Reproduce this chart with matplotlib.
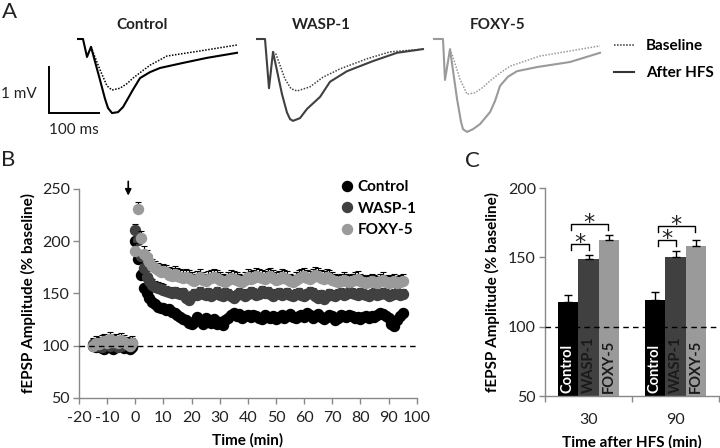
import numpy as np
import matplotlib
matplotlib.use("Agg")
import matplotlib.pyplot as plt
from matplotlib.lines import Line2D

plt.rcParams['font.family'] = ['Lato', 'DejaVu Sans']
plt.rcParams['axes.unicode_minus'] = False

GROUPS = ["Control", "WASP-1", "FOXY-5"]
COLORS = ["#000000", "#404040", "#9a9a9a"]

# ---- A: example traces (time in ms, amplitude in mV) ----
CTRL_HFS_T = [0, 12, 20, 28, 46, 56, 62, 70, 82, 92, 100, 112, 126, 146, 166, 212, 260, 320]
CTRL_HFS_V = [0, 0, -0.39, -0.17, -0.89, -1.30, -1.50, -1.61, -1.59, -1.48, -1.33, -1.10, -0.85, -0.72,
              -0.63, -0.52, -0.41, -0.30]
CTRL_BASE_T = [28, 46, 60, 70, 86, 100, 112, 130, 146, 180, 246, 320]
CTRL_BASE_V = [-0.17, -0.67, -1.02, -1.11, -1.07, -0.97, -0.85, -0.70, -0.57, -0.37, -0.26, -0.13]

WASP_HFS_T = [0, 18, 26, 34, 52, 62, 68, 74, 88, 102, 128, 148, 182, 234, 282, 334]
WASP_HFS_V = [0, 0, -1.07, -0.28, -1.20, -1.60, -1.74, -1.78, -1.72, -1.52, -1.26, -0.93, -0.70, -0.48,
              -0.30, -0.22]
WASP_BASE_T = [34, 40, 58, 70, 82, 108, 134, 168, 222, 268, 334]
WASP_BASE_V = [-0.28, -0.33, -0.87, -1.08, -1.13, -1.04, -0.83, -0.65, -0.43, -0.28, -0.22]

FOXY_HFS_T = [0, 20, 24, 34, 48, 56, 60, 68, 80, 94, 114, 124, 134, 150, 168, 208, 274, 334]
FOXY_HFS_V = [0, 0, -0.89, -0.22, -1.30, -1.80, -1.96, -2.02, -1.96, -1.85, -1.59, -1.35, -1.02, -0.82,
              -0.70, -0.61, -0.50, -0.30]
FOXY_BASE_T = [34, 38, 54, 68, 84, 100, 114, 134, 154, 214, 334]
FOXY_BASE_V = [-0.22, -0.33, -0.87, -1.20, -1.17, -1.05, -0.91, -0.74, -0.59, -0.37, -0.15]

# ---- B: time course (% baseline) ----
BASE_T = list(range(-15, 0))
POST_T = list(range(0, 96))
CTRL_BASE = [100, 99, 101, 98, 97, 100, 99, 97, 99, 101, 100, 98, 99, 97, 99]
WASP_BASE = [101, 100, 102, 99, 101, 103, 100, 102, 101, 99, 100, 102, 101, 100, 102]
FOXY_BASE = [100, 102, 101, 103, 104, 102, 106, 103, 104, 102, 105, 103, 101, 100, 102]
CTRL_POST = [200, 183, 168, 155, 150, 146, 142, 140, 137, 136, 136, 134, 135, 132, 131, 129, 127, 125, 124, 122,
             121, 123, 127, 124, 121, 126, 124, 122, 125, 121, 123, 120, 124, 126, 129, 131, 128, 130, 126, 128,
             129, 127, 129, 128, 126, 125, 129, 127, 126, 128, 125, 127, 129, 126, 128, 130, 127, 126, 128, 129,
             127, 131, 129, 126, 128, 130, 127, 125, 127, 129, 128, 124, 126, 129, 128, 127, 129, 128, 126, 127,
             125, 127, 128, 126, 128, 127, 129, 131, 130, 128, 126, 121, 119, 124, 128, 131]
WASP_POST = [211, 201, 186, 174, 166, 162, 158, 156, 155, 154, 153, 152, 151, 150, 151, 150, 149, 150, 146, 144,
             147, 149, 148, 151, 149, 148, 150, 147, 149, 151, 148, 147, 150, 149, 147, 146, 148, 150, 149, 147,
             149, 151, 150, 148, 149, 152, 150, 151, 149, 147, 149, 150, 148, 149, 150, 148, 147, 149, 150, 148,
             147, 149, 151, 150, 147, 146, 148, 145, 147, 149, 148, 147, 149, 150, 148, 149, 151, 150, 149, 148,
             150, 149, 148, 147, 149, 150, 148, 149, 150, 149, 147, 148, 149, 150, 148, 149]
FOXY_POST = [191, 231, 203, 188, 185, 180, 176, 174, 172, 170, 171, 170, 168, 167, 169, 167, 166, 165, 166, 165,
             163, 162, 164, 166, 163, 162, 164, 165, 166, 165, 163, 162, 161, 163, 165, 164, 163, 162, 161, 163,
             166, 164, 165, 167, 166, 165, 164, 166, 167, 165, 163, 164, 166, 165, 164, 162, 161, 163, 165, 166,
             167, 165, 164, 166, 168, 167, 165, 164, 166, 165, 163, 162, 161, 162, 163, 162, 161, 162, 163, 164,
             162, 161, 160, 161, 162, 161, 160, 162, 163, 161, 160, 161, 162, 160, 161, 162]
SEM_B = [4, 5.5, 7]

# ---- C: bar summary ----
TIMES_C = ["30", "90"]
BAR_MEAN = [[117.5, 119.5], [148.5, 150.0], [162.5, 158.0]]
BAR_SEM = [[5.0, 5.5], [3.0, 4.5], [3.5, 4.5]]
SIG_PAIRS = [(0, 1), (0, 2)]

fig = plt.figure(figsize=(7.2, 4.48), dpi=100)
W, H = 720.0, 448.0
def box(l, t, r, b):
    return [l / W, 1 - b / H, (r - l) / W, (b - t) / H]

# ---------------- A ----------------
traces = [(CTRL_HFS_T, CTRL_HFS_V, CTRL_BASE_T, CTRL_BASE_V),
          (WASP_HFS_T, WASP_HFS_V, WASP_BASE_T, WASP_BASE_V),
          (FOXY_HFS_T, FOXY_HFS_V, FOXY_BASE_T, FOXY_BASE_V)]
lefts = [77, 256, 433]
axA = []
for name, col, left, (ht, hv, bt, bv) in zip(GROUPS, COLORS, lefts, traces):
    ax = fig.add_axes(box(left, 20.6, left + 170, 140.2))
    ax.plot(bt, bv, color=col, lw=1.1, ls=(0, (1, 1)))
    ax.plot(ht, hv, color=col, lw=1.5)
    ax.set_xlim(0, 340); ax.set_ylim(-2.2, 0.4)
    ax.text(130, 0.30, name, ha="center", va="center", fontweight="bold", fontsize=11, color="#222222")
    ax.axis("off")
    axA.append(ax)

# scale bar
a0 = axA[0]
a0.plot([-56, -56, 44], [-0.61, -1.61, -1.61], color="black", lw=1.4, clip_on=False, solid_joinstyle="miter")
a0.text(-80, -1.20, "1 mV", ha="right", va="center", fontsize=11, color="#222222")
a0.text(-6, -1.98, "100 ms", ha="center", va="center", fontsize=11, color="#222222")

hdl = [Line2D([], [], color="#333333", lw=1.1, ls=(0, (1, 1))),
       Line2D([], [], color="#333333", lw=1.5)]
fig.legend(hdl, ["Baseline", "After HFS"], loc="upper left", bbox_to_anchor=(614 / W, 1 - 39 / H),
           frameon=False, prop={"weight": "bold", "size": 11}, handlelength=1.3,
           handletextpad=0.8, labelspacing=0.85, borderpad=0, borderaxespad=0)

# ---------------- B ----------------
axB = fig.add_axes(box(79, 189, 416.7, 397.7))
all_t = BASE_T + POST_T
series = [(CTRL_BASE, CTRL_POST), (WASP_BASE, WASP_POST), (FOXY_BASE, FOXY_POST)]
handles = []
for i, (name, col, (b, p), sem) in enumerate(zip(GROUPS, COLORS, series, SEM_B)):
    y = np.array(b + p, dtype=float)
    axB.errorbar(all_t, y, yerr=[np.zeros_like(y), np.full_like(y, sem)], fmt="none",
                 ecolor="black", elinewidth=0.8, capsize=2, capthick=0.8, zorder=1.9 + i)
    ln, = axB.plot(all_t, y, "o", ms=7.2, color=col, mec=col, zorder=2 + i, label=name)
    handles.append(ln)
axB.axhline(100, color="black", lw=1, ls=(0, (4, 3)), zorder=6)
axB.annotate("", xy=(-2.5, 241), xytext=(-2.5, 260),
             arrowprops=dict(arrowstyle="-|>", color="black", lw=1.2, mutation_scale=9),
             annotation_clip=False)
axB.set_xlim(-20, 100); axB.set_ylim(50, 250)
axB.set_xticks(range(-20, 101, 10)); axB.set_yticks(range(50, 251, 50))
axB.set_xlabel("Time (min)", fontweight="bold", fontsize=11, labelpad=6)
axB.set_ylabel("fEPSP Amplitude (% baseline)", fontweight="bold", fontsize=11, labelpad=4)
axB.legend(handles=handles, loc="upper left", bbox_to_anchor=(342.5 / W, 1 - 180 / H),
           bbox_transform=fig.transFigure, frameon=False, prop={"weight": "bold", "size": 11},
           handlelength=0.6, handletextpad=0.4, labelspacing=0.5, borderpad=0, borderaxespad=0)

# ---------------- C ----------------
axC = fig.add_axes(box(545, 188, 719, 396))
x = np.arange(len(TIMES_C))
w = 0.236
for i, (name, col) in enumerate(zip(GROUPS, COLORS)):
    xs = x + (i - 1) * w
    axC.bar(xs, BAR_MEAN[i], width=w, color=col, zorder=2)
    axC.errorbar(xs, BAR_MEAN[i], yerr=[np.zeros(len(x)), BAR_SEM[i]], fmt="none", ecolor="black",
                 elinewidth=1, capsize=3, capthick=1, zorder=3)
    tcol = "white" if i == 0 else "#1a1a1a"
    for xx in xs:
        axC.text(xx, 52, name, rotation=90, ha="center", va="bottom", color=tcol,
                 fontweight="bold", fontsize=10.5, zorder=4)
axC.axhline(100, color="black", lw=1, ls=(0, (4, 3)), zorder=5)

for j in range(len(TIMES_C)):
    tops = [BAR_MEAN[i][j] + BAR_SEM[i][j] for i in range(3)]
    prev = 0
    for (a, b) in SIG_PAIRS:
        h = max(max(tops[a:b + 1]) + 8, prev + 10)
        x1 = x[j] + (a - 1) * w + 0.035
        x2 = x[j] + (b - 1) * w - (0.015 if b == 2 else 0)
        axC.plot([x1, x1, x2, x2], [h - 4.5, h, h, h - 4.5], color="black", lw=1, zorder=3)
        axC.text((x1 + x2) / 2, h + 1.0, "*", ha="center", va="center", fontsize=16,
                 family="DejaVu Sans", color="#222222")
        prev = h

axC.set_xlim(-0.5, 1.5); axC.set_ylim(50, 200)
axC.set_yticks(range(50, 201, 50))
axC.set_xticks([-0.5, 0.5, 1.5]); axC.set_xticklabels([])
axC.set_xticks(x, minor=True); axC.set_xticklabels(TIMES_C, minor=True)
axC.set_xlabel("Time after HFS (min)", fontweight="bold", fontsize=11, labelpad=6)
axC.set_ylabel("fEPSP Amplitude (% baseline)", fontweight="bold", fontsize=11, labelpad=6)

for ax in (axB, axC):
    for s in ("top", "right"):
        ax.spines[s].set_visible(False)
    for s in ("left", "bottom"):
        ax.spines[s].set_color("#888888"); ax.spines[s].set_linewidth(1)
    ax.tick_params(which="both", direction="out", color="#888888", labelsize=11.5,
                   labelcolor="#222222", length=4.5, width=1, pad=2)
axC.tick_params(axis="x", which="minor", length=0, pad=12)
axB.tick_params(axis="x", pad=5)

fig.text(2 / W, 1 - 12 / H, "A", fontsize=16, va="center", ha="left", color="#222222")
fig.text(1 / W, 1 - 160 / H, "B", fontsize=16, va="center", ha="left", color="#222222")
fig.text(465 / W, 1 - 161 / H, "C", fontsize=16, va="center", ha="left", color="#222222")

fig.savefig("out.png", dpi=100)
